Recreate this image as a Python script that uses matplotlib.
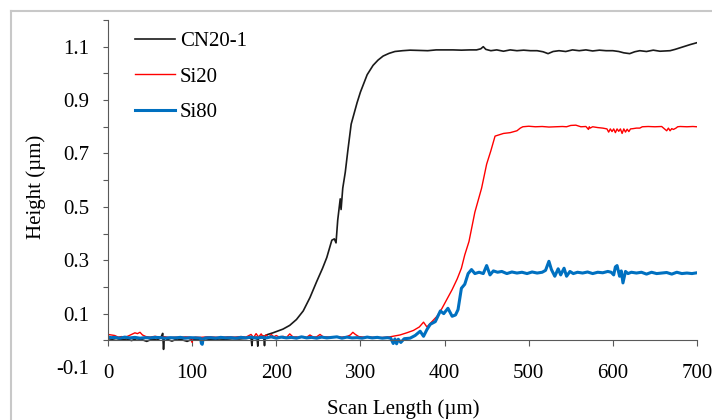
import matplotlib
matplotlib.use('Agg')
import matplotlib.pyplot as plt
from matplotlib.lines import Line2D

# ---- data ----
cn20_x = [0, 5, 10, 16, 22, 28, 34, 40, 46, 52, 58, 62, 64, 65, 66, 67, 70, 76, 82, 88,
          94, 100, 108, 116, 124, 132, 140, 148, 156, 164, 170, 171, 172, 177, 178, 179,
          185, 186, 187, 190, 196, 202, 208, 216, 224, 232, 240, 248, 255, 260, 266, 269,
          271, 273, 276, 277, 279, 282, 285, 289, 296, 300, 308, 315, 321, 327, 334, 341,
          350, 359, 370, 380, 390, 400, 410, 420, 430, 438, 443, 446, 449, 455, 462, 470,
          478, 486, 494, 502, 510, 517, 523, 529, 536, 544, 552, 560, 568, 576, 584, 592,
          600, 607, 613, 620, 626, 632, 640, 648, 656, 662, 668, 674, 680, 686, 692, 700]
cn20_y = [0.006, 0.004, 0.007, 0.002, 0.005, -0.001, 0.006, 0.003, -0.004, 0.004, 0.001,
          0.008, 0.018, 0.026, -0.034, 0.012, 0.004, -0.003, 0.005, 0.002, -0.004, 0.004,
          0.003, 0.006, 0.002, 0.005, 0.004, 0.006, 0.005, 0.007, 0.009, -0.02, 0.01, 0.012,
          -0.022, 0.013, 0.016, -0.02, 0.018, 0.022, 0.028, 0.035, 0.042, 0.056, 0.078,
          0.11, 0.16, 0.22, 0.27, 0.31, 0.375, 0.38, 0.365, 0.45, 0.53, 0.49, 0.57, 0.63,
          0.71, 0.81, 0.89, 0.93, 0.995, 1.03, 1.05, 1.065, 1.075, 1.082, 1.085, 1.087,
          1.086, 1.085, 1.088, 1.088, 1.088, 1.087, 1.088, 1.088, 1.092, 1.10, 1.09, 1.085,
          1.088, 1.083, 1.088, 1.085, 1.087, 1.085, 1.085, 1.081, 1.074, 1.082, 1.085,
          1.082, 1.088, 1.085, 1.088, 1.084, 1.087, 1.085, 1.085, 1.082, 1.077, 1.074,
          1.081, 1.085, 1.082, 1.087, 1.083, 1.084, 1.085, 1.09, 1.096, 1.102, 1.108, 1.115]

si20_x = [0, 4, 8, 12, 16, 20, 24, 28, 32, 35, 38, 41, 45, 50, 56, 62, 68, 74, 80, 86, 92,
          97, 100, 101, 104, 110, 118, 126, 134, 142, 150, 158, 164, 170, 173, 176, 179,
          182, 185, 188, 191, 194, 197, 200, 204, 208, 212, 216, 220, 224, 228, 232, 236,
          240, 244, 248, 252, 256, 260, 266, 272, 278, 284, 288, 291, 294, 298, 304, 312,
          323, 335, 347, 355, 363, 370, 375, 379, 385, 391, 397, 403, 409, 415, 420, 424,
          429, 436, 444, 450, 455, 460, 463, 470, 478, 486, 490, 493, 500, 508, 516, 524,
          532, 540, 545, 550, 556, 562, 568, 571, 572, 573, 576, 582, 588, 593, 595, 597,
          599, 601, 603, 605, 607, 609, 611, 613, 615, 617, 619, 621, 624, 628, 632, 635,
          642, 650, 658, 662, 664, 666, 668, 670, 672, 675, 677, 680, 688, 695, 700]
si20_y = [0.022, 0.02, 0.018, 0.012, 0.014, 0.011, 0.016, 0.022, 0.028, 0.025, 0.03, 0.02,
          0.014, 0.012, 0.015, 0.011, 0.013, 0.01, 0.012, 0.011, 0.013, 0.012, -0.008, 0.01,
          0.012, 0.011, 0.013, 0.012, 0.011, 0.013, 0.012, 0.014, 0.012, 0.022, 0.01, 0.025,
          0.012, 0.024, 0.011, 0.02, 0.01, 0.022, 0.013, 0.018, 0.011, 0.015, 0.01, 0.024,
          0.012, 0.013, 0.01, 0.014, 0.011, 0.02, 0.012, 0.013, 0.022, 0.012, 0.013, 0.011,
          0.013, 0.012, 0.014, 0.02, 0.03, 0.022, 0.014, 0.012, 0.012, 0.01, 0.013, 0.02,
          0.028, 0.037, 0.05, 0.068, 0.05, 0.07, 0.09, 0.12, 0.155, 0.19, 0.23, 0.27, 0.32,
          0.37, 0.48, 0.57, 0.66, 0.71, 0.765, 0.768, 0.775, 0.778, 0.785, 0.795, 0.80,
          0.802, 0.8, 0.801, 0.799, 0.8, 0.801, 0.8, 0.805, 0.806, 0.8, 0.801, 0.79, 0.8,
          0.795, 0.8, 0.797, 0.795, 0.792, 0.78, 0.792, 0.782, 0.792, 0.778, 0.792, 0.783,
          0.792, 0.775, 0.792, 0.78, 0.791, 0.782, 0.792, 0.793, 0.795, 0.795, 0.8, 0.801,
          0.8, 0.801, 0.79, 0.785, 0.795, 0.785, 0.793, 0.79, 0.795, 0.8, 0.801, 0.8, 0.801,
          0.8]

si80_x = [0, 4, 8, 14, 20, 26, 32, 38, 44, 50, 56, 62, 68, 74, 80, 86, 92, 98, 104, 110,
          111, 112, 113, 116, 122, 128, 134, 140, 146, 152, 158, 164, 170, 176, 182, 188,
          194, 200, 206, 212, 218, 224, 230, 236, 242, 248, 254, 260, 266, 272, 278, 284,
          290, 296, 302, 308, 314, 320, 326, 332, 336, 339, 341, 343, 345, 348, 352, 359,
          365, 371, 375, 379, 383, 389, 395, 399, 404, 409, 413, 416, 420, 424, 428, 432,
          436, 441, 446, 450, 454, 458, 463, 468, 474, 480, 486, 492, 498, 504, 510, 516,
          520, 524, 527, 531, 535, 538, 542, 545, 549, 553, 558, 564, 570, 576, 582, 588,
          594, 598, 601, 603, 605, 608, 610, 612, 615, 618, 622, 628, 634, 640, 646, 652,
          658, 664, 670, 676, 682, 688, 694, 700]
si80_y = [0.012, 0.01, 0.011, 0.008, 0.012, 0.009, 0.011, 0.008, 0.01, 0.009, 0.011, 0.01,
          0.008, 0.01, 0.009, 0.011, 0.008, 0.01, 0.009, 0.008, -0.012, -0.015, 0.005,
          0.009, 0.01, 0.008, 0.011, 0.009, 0.01, 0.008, 0.011, 0.009, 0.012, 0.008, 0.011,
          0.009, 0.013, 0.008, 0.012, 0.009, 0.011, 0.008, 0.013, 0.009, 0.011, 0.008,
          0.012, 0.009, 0.011, 0.013, 0.008, 0.012, 0.009, 0.01, 0.008, 0.012, 0.009, 0.011,
          0.008, 0.01, 0.008, -0.012, 0.005, -0.013, 0.004, -0.008, 0.006, 0.008, 0.018,
          0.034, 0.015, 0.04, 0.06, 0.07, 0.11, 0.1, 0.12, 0.09, 0.095, 0.115, 0.195, 0.21,
          0.25, 0.265, 0.25, 0.255, 0.25, 0.28, 0.245, 0.26, 0.255, 0.258, 0.25, 0.256,
          0.252, 0.255, 0.25, 0.256, 0.252, 0.255, 0.262, 0.296, 0.265, 0.24, 0.268, 0.245,
          0.27, 0.24, 0.258, 0.25, 0.255, 0.252, 0.256, 0.25, 0.255, 0.253, 0.258, 0.255,
          0.245, 0.275, 0.28, 0.24, 0.26, 0.215, 0.258, 0.25, 0.255, 0.252, 0.255, 0.248,
          0.255, 0.25, 0.252, 0.254, 0.248, 0.255, 0.25, 0.252, 0.25, 0.253]

series_names = ['CN20-1', 'Si20', 'Si80']

x_ticks = [0, 100, 200, 300, 400, 500, 600, 700]
y_ticks = [-0.1, 0.0, 0.1, 0.2, 0.3, 0.4, 0.5, 0.6, 0.7, 0.8, 0.9, 1.0, 1.1, 1.2]
y_tick_labels = ['-0.1', '', '0.1', '', '0.3', '', '0.5', '', '0.7', '', '0.9', '', '1.1', '']

plt.rcParams['font.family'] = ['Liberation Serif', 'DejaVu Serif']

fig = plt.figure(figsize=(7.12, 4.2), dpi=100)
ax = fig.add_axes([108 / 712, 53 / 420, 589 / 712, 347 / 420])

ax.plot(cn20_x, cn20_y, color='#1a1a1a', lw=1.2, label=series_names[0])
ax.plot(si20_x, si20_y, color='#ff0000', lw=1.0, label=series_names[1])
ax.plot(si80_x, si80_y, color='#0070c0', lw=2.2, label=series_names[2])

ax.set_xlim(0, 700)
ax.set_ylim(-0.1, 1.2)

# axes: y spine only from 0 up, x spine sits at y = 0
axis_col = '#595959'
ax.spines['top'].set_visible(False)
ax.spines['right'].set_visible(False)
ax.spines['left'].set_bounds(0, 1.2)
ax.spines['bottom'].set_position(('data', 0))
for s in ['left', 'bottom']:
    ax.spines[s].set_color(axis_col)
    ax.spines[s].set_linewidth(0.8)

ax.set_xticks(x_ticks)
ax.set_yticks(y_ticks)
ax.set_yticklabels(y_tick_labels)
ax.yaxis.get_major_ticks()[0].tick1line.set_visible(False)
ax.tick_params(axis='y', direction='out', length=3.6, width=0.8, color=axis_col,
               pad=10, labelsize=15)
ax.tick_params(axis='x', direction='out', length=4.3, width=0.8, color=axis_col,
               pad=13, labelsize=15)

ax.set_xlabel('Scan Length (µm)', fontsize=15)
ax.xaxis.set_label_coords(0.5008, -0.092)
ax.set_ylabel('Height (µm)', fontsize=15)
ax.yaxis.set_label_coords(-0.105, 0.52)

ax.legend(loc='upper left', bbox_to_anchor=(0.046, 0.966), frameon=False, fontsize=15,
          handlelength=1.9, handletextpad=0.25, labelspacing=0.75,
          borderpad=0, borderaxespad=0)

# light grey chart frame (top and left edges visible)
fig.add_artist(Line2D([11 / 712, 11 / 712], [0, 1 - 11 / 420], color='#c8c8c8', lw=1.5,
                      transform=fig.transFigure))
fig.add_artist(Line2D([11 / 712, 1], [1 - 11 / 420, 1 - 11 / 420], color='#c8c8c8', lw=1.5,
                      transform=fig.transFigure))

fig.savefig('out.png', dpi=100)
